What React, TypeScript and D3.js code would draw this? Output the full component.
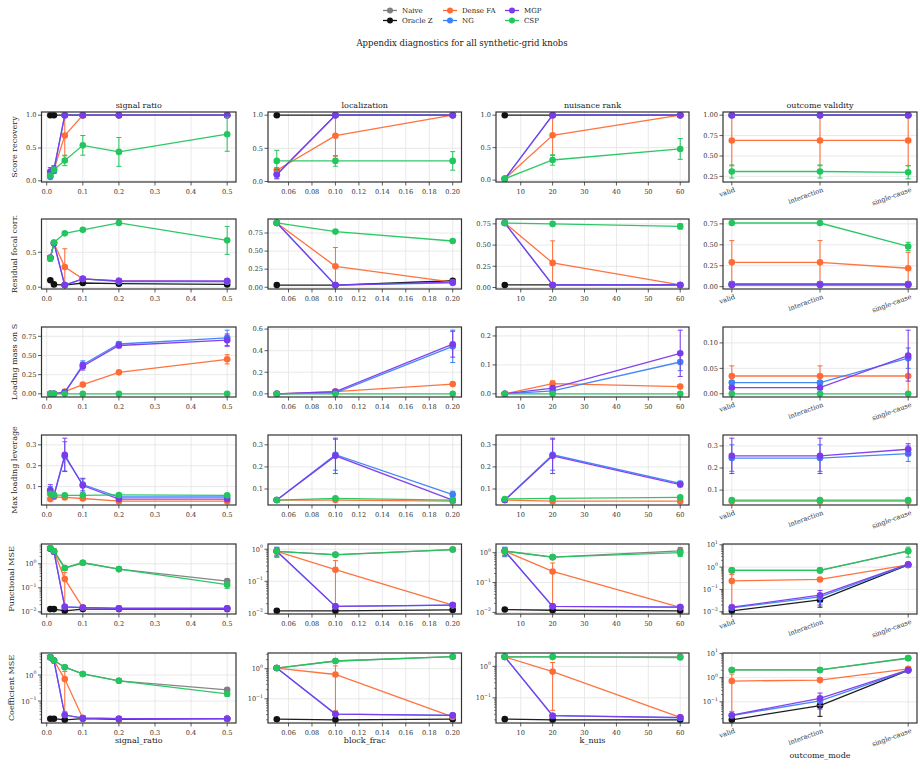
import * as d3 from "d3";
import React from "react";

// series in legend order (also draw order)
const seriesNames = ["Naive", "Oracle Z", "Dense FA", "NG", "MGP", "CSP"];
const seriesColors = ["#7f7f7f", "#111111", "#ff6b35", "#3b82f6", "#7c3aed", "#22c55e"];

const signalRatio = [0.01, 0.02, 0.05, 0.1, 0.2, 0.5];
const blockFrac = [0.05, 0.1, 0.2];
const kNuis = [5, 20, 60];
const outcomeMode = ["valid", "interaction", "single-cause"];

const colTitles = ["signal ratio", "localization", "nuisance rank", "outcome validity"];
const xLabels = ["signal_ratio", "block_frac", "k_nuis", "outcome_mode"];
const rowLabels = [
  "Score recovery",
  "Residual focal corr.",
  "Loading mass on S",
  "Max loading leverage",
  "Functional MSE",
  "Coefficient MSE",
];

const xTicksSignal = [0, 0.1, 0.2, 0.3, 0.4, 0.5];
const xTicksBlock = [0.06, 0.08, 0.1, 0.12, 0.14, 0.16, 0.18, 0.2];
const xTicksNuis = [10, 20, 30, 40, 50, 60];

const yTicksScore = [0, 0.5, 1];
const yTicksScoreOutcome = [0.25, 0.5, 0.75, 1];
const yTicksResidSignal = [0, 0.5];
const yTicksQuarter = [0, 0.25, 0.5, 0.75];
const yTicksLoadBlock = [0, 0.2, 0.4, 0.6];
const yTicksLoadNuis = [0, 0.1, 0.2];
const yTicksLoadOutcome = [0, 0.05, 0.1];
const yTicksLev = [0.1, 0.2, 0.3];
const yTicksLogA = [0.01, 0.1, 1];
const yTicksLogB = [0.01, 0.1, 1, 10];
const yTicksLogC = [0.1, 1];
const yTicksLogD = [0.1, 1, 10];

// [mean, err] or [mean, errLow, errHigh]
type Pt = number[];
type PanelData = Record<string, Pt[]>;

// ---- Score recovery
const scoreSignal: PanelData = {
  "Oracle Z": [[1, 0], [1, 0], [1, 0], [1, 0], [1, 0], [1, 0]],
  "Dense FA": [[0.12, 0.03], [0.17, 0.03], [0.69, 0.31], [1, 0], [1, 0], [1, 0]],
  NG: [[0.06, 0.03], [0.15, 0.04], [1, 0], [1, 0], [1, 0], [1, 0]],
  MGP: [[0.14, 0.06], [0.18, 0.05], [1, 0], [1, 0], [1, 0], [1, 0]],
  CSP: [[0.08, 0.03], [0.17, 0.03], [0.31, 0.08], [0.54, 0.15], [0.44, 0.22], [0.71, 0.26]],
};
const scoreBlock: PanelData = {
  "Oracle Z": [[1, 0], [1, 0], [1, 0]],
  "Dense FA": [[0.17, 0.04], [0.69, 0.31], [1, 0]],
  NG: [[0.1, 0.05], [1, 0], [1, 0]],
  MGP: [[0.11, 0.07], [1, 0], [1, 0]],
  CSP: [[0.31, 0.16], [0.31, 0.08], [0.31, 0.14]],
};
const scoreNuis: PanelData = {
  "Oracle Z": [[1, 0], [1, 0], [1, 0]],
  "Dense FA": [[0.02, 0], [0.69, 0.31], [1, 0]],
  NG: [[0.02, 0], [1, 0], [1, 0]],
  MGP: [[0.02, 0], [1, 0], [1, 0]],
  CSP: [[0.02, 0], [0.31, 0.08], [0.48, 0.16]],
};
const scoreOutcome: PanelData = {
  "Oracle Z": [[1, 0], [1, 0], [1, 0]],
  "Dense FA": [[0.69, 0.31], [0.69, 0.31], [0.69, 0.31]],
  NG: [[1, 0], [1, 0], [1, 0]],
  MGP: [[1, 0], [1, 0], [1, 0]],
  CSP: [[0.31, 0.08], [0.31, 0.08], [0.3, 0.08]],
};

// ---- Residual focal corr.
const residSignal: PanelData = {
  "Oracle Z": [[0.1, 0], [0.04, 0], [0.03, 0], [0.06, 0], [0.05, 0], [0.04, 0]],
  "Dense FA": [[0.42, 0.03], [0.63, 0.03], [0.29, 0.26], [0.12, 0.01], [0.09, 0.01], [0.08, 0.01]],
  NG: [[0.42, 0.03], [0.63, 0.03], [0.03, 0.01], [0.12, 0.01], [0.08, 0.01], [0.08, 0.01]],
  MGP: [[0.42, 0.03], [0.63, 0.03], [0.03, 0.01], [0.12, 0.01], [0.09, 0.01], [0.09, 0.01]],
  CSP: [[0.41, 0.04], [0.64, 0.03], [0.77, 0.02], [0.82, 0.02], [0.92, 0.01], [0.67, 0.2]],
};
const residBlock: PanelData = {
  "Oracle Z": [[0.03, 0], [0.03, 0], [0.09, 0]],
  "Dense FA": [[0.89, 0.01], [0.29, 0.26], [0.07, 0.01]],
  NG: [[0.89, 0.01], [0.03, 0.01], [0.06, 0.01]],
  MGP: [[0.89, 0.01], [0.03, 0.01], [0.07, 0.01]],
  CSP: [[0.89, 0.01], [0.77, 0.01], [0.64, 0.01]],
};
const residNuis: PanelData = {
  "Oracle Z": [[0.03, 0], [0.03, 0], [0.03, 0]],
  "Dense FA": [[0.76, 0.01], [0.29, 0.26], [0.03, 0.01]],
  NG: [[0.76, 0.01], [0.03, 0.01], [0.03, 0.01]],
  MGP: [[0.76, 0.01], [0.03, 0.01], [0.03, 0.01]],
  CSP: [[0.76, 0.01], [0.75, 0.01], [0.72, 0.03]],
};
const residOutcome: PanelData = {
  "Oracle Z": [[0.03, 0], [0.03, 0], [0.03, 0]],
  "Dense FA": [[0.29, 0.26], [0.29, 0.26], [0.22, 0.19]],
  NG: [[0.03, 0.01], [0.03, 0.01], [0.03, 0.01]],
  MGP: [[0.02, 0.01], [0.02, 0.01], [0.02, 0.01]],
  CSP: [[0.76, 0.01], [0.76, 0.01], [0.48, 0.05]],
};

// ---- Loading mass on S
const loadSignal: PanelData = {
  "Dense FA": [[0, 0], [0, 0], [0.03, 0.01], [0.12, 0.01], [0.28, 0.01], [0.45, 0.06]],
  NG: [[0, 0], [0, 0], [0.02, 0.01], [0.38, 0.05], [0.65, 0.03], [0.73, 0.1]],
  MGP: [[0, 0], [0, 0], [0.02, 0.01], [0.36, 0.05], [0.63, 0.03], [0.7, 0.08]],
  CSP: [[0, 0], [0, 0], [0, 0], [0, 0], [0, 0], [0, 0]],
};
const loadBlock: PanelData = {
  "Dense FA": [[0, 0], [0.02, 0.01], [0.09, 0.01]],
  NG: [[0, 0], [0.01, 0.01], [0.44, 0.15]],
  MGP: [[0, 0], [0.02, 0.01], [0.46, 0.12]],
  CSP: [[0, 0], [0, 0], [0, 0]],
};
const loadNuis: PanelData = {
  "Dense FA": [[0, 0], [0.035, 0.01], [0.025, 0.003]],
  NG: [[0, 0], [0.01, 0.005], [0.11, 0.03]],
  MGP: [[0, 0], [0.02, 0.005], [0.14, 0.08]],
  CSP: [[0, 0], [0, 0], [0, 0]],
};
const loadOutcome: PanelData = {
  "Dense FA": [[0.035, 0.02], [0.035, 0.02], [0.035, 0.035]],
  NG: [[0.022, 0.003], [0.022, 0.003], [0.07, 0.02]],
  MGP: [[0.012, 0.003], [0.012, 0.003], [0.075, 0.05]],
  CSP: [[0, 0], [0, 0], [0, 0]],
};

// ---- Max loading leverage
const levSignal: PanelData = {
  "Dense FA": [[0.04, 0.005], [0.05, 0.005], [0.048, 0.005], [0.043, 0.005], [0.03, 0.003], [0.03, 0.003]],
  NG: [[0.08, 0.02], [0.056, 0.005], [0.245, 0.07], [0.11, 0.03], [0.05, 0.003], [0.05, 0.003]],
  MGP: [[0.084, 0.025], [0.058, 0.005], [0.252, 0.08], [0.105, 0.032], [0.04, 0.003], [0.04, 0.003]],
  CSP: [[0.066, 0.005], [0.06, 0.004], [0.058, 0.004], [0.058, 0.004], [0.06, 0.004], [0.058, 0.004]],
};
const levBlock: PanelData = {
  "Dense FA": [[0.05, 0.003], [0.05, 0.003], [0.045, 0.003]],
  NG: [[0.05, 0.003], [0.255, 0.07], [0.075, 0.015]],
  MGP: [[0.05, 0.003], [0.25, 0.08], [0.05, 0.003]],
  CSP: [[0.05, 0.003], [0.058, 0.003], [0.05, 0.003]],
};
const levNuis: PanelData = {
  "Dense FA": [[0.05, 0.003], [0.045, 0.003], [0.045, 0.003]],
  NG: [[0.05, 0.003], [0.255, 0.07], [0.125, 0.01]],
  MGP: [[0.05, 0.003], [0.25, 0.08], [0.12, 0.01]],
  CSP: [[0.055, 0.003], [0.058, 0.003], [0.062, 0.004]],
};
const levOutcome: PanelData = {
  "Dense FA": [[0.05, 0.003], [0.05, 0.003], [0.05, 0.003]],
  NG: [[0.245, 0.06], [0.245, 0.06], [0.265, 0.035]],
  MGP: [[0.255, 0.08], [0.255, 0.08], [0.285, 0.025]],
  CSP: [[0.055, 0.003], [0.055, 0.003], [0.055, 0.003]],
};

// ---- Functional MSE (log)
const funcSignal: PanelData = {
  Naive: [[4.4, 0], [3.3, 0], [0.67, 0], [1.1, 0], [0.6, 0], [0.19, 0]],
  "Oracle Z": [[0.013, 0], [0.013, 0], [0.011, 0], [0.013, 0], [0.013, 0], [0.013, 0]],
  "Dense FA": [[4.4, 0.5], [3.3, 0.3], [0.23, 0.21], [0.015, 0.001], [0.014, 0.001], [0.014, 0.001]],
  NG: [[4.2, 0.4], [3.2, 0.3], [0.016, 0.001], [0.015, 0.001], [0.014, 0.001], [0.014, 0.001]],
  MGP: [[4.2, 0.4], [3.2, 0.3], [0.016, 0.001], [0.015, 0.001], [0.014, 0.001], [0.014, 0.001]],
  CSP: [[4.4, 0.5], [3.4, 0.3], [0.67, 0.05], [1.1, 0.05], [0.6, 0.03], [0.135, 0.04]],
};
const funcBlock: PanelData = {
  Naive: [[0.86, 0], [0.68, 0], [0.98, 0]],
  "Oracle Z": [[0.012, 0], [0.012, 0], [0.0128, 0]],
  "Dense FA": [[0.86, 0.2], [0.23, 0.213], [0.018, 0.001]],
  NG: [[0.86, 0.3], [0.0165, 0.001], [0.018, 0.001]],
  MGP: [[0.86, 0.25], [0.0165, 0.001], [0.018, 0.001]],
  CSP: [[0.86, 0.25], [0.67, 0.03], [0.98, 0.03]],
};
const funcNuis: PanelData = {
  Naive: [[1.13, 0.3], [0.71, 0], [1.15, 0.35]],
  "Oracle Z": [[0.0125, 0], [0.0118, 0], [0.0113, 0]],
  "Dense FA": [[1.13, 0.3], [0.235, 0.218], [0.0148, 0.001]],
  NG: [[1.13, 0.4], [0.016, 0.001], [0.015, 0.001]],
  MGP: [[1.13, 0.35], [0.016, 0.001], [0.015, 0.001]],
  CSP: [[1.13, 0.35], [0.71, 0.03], [1.0, 0.25]],
};
const funcOutcome: PanelData = {
  Naive: [[0.71, 0], [0.71, 0], [5.2, 0]],
  "Oracle Z": [[0.011, 0], [0.034, 0.018], [1.25, 0]],
  "Dense FA": [[0.24, 0.22], [0.28, 0], [1.25, 0]],
  NG: [[0.015, 0.001], [0.046, 0.02], [1.3, 0.1]],
  MGP: [[0.016, 0.001], [0.055, 0.035], [1.35, 0.1]],
  CSP: [[0.71, 0.03], [0.71, 0.03], [5.3, 2.5]],
};

// ---- Coefficient MSE (log)
const coefSignal: PanelData = {
  Naive: [[4.8, 0], [3.6, 0], [2.0, 0], [1.1, 0], [0.6, 0], [0.27, 0]],
  "Oracle Z": [[0.021, 0], [0.021, 0], [0.019, 0], [0.021, 0], [0.02, 0], [0.021, 0]],
  "Dense FA": [[4.8, 0.5], [3.6, 0.3], [0.7, 0.66], [0.022, 0.001], [0.021, 0.001], [0.021, 0.001]],
  NG: [[4.8, 0.4], [3.6, 0.3], [0.029, 0.002], [0.022, 0.001], [0.021, 0.001], [0.021, 0.001]],
  MGP: [[4.8, 0.4], [3.6, 0.3], [0.029, 0.002], [0.022, 0.001], [0.021, 0.001], [0.021, 0.001]],
  CSP: [[4.8, 0.5], [3.6, 0.3], [2.0, 0.1], [1.1, 0.05], [0.6, 0.03], [0.19, 0.04]],
};
const coefBlock: PanelData = {
  Naive: [[1.05, 0], [1.8, 0], [2.5, 0]],
  "Oracle Z": [[0.021, 0], [0.02, 0], [0.021, 0]],
  "Dense FA": [[1.05, 0.1], [0.64, 0.6], [0.025, 0.001]],
  NG: [[1.05, 0.1], [0.031, 0.002], [0.028, 0.002]],
  MGP: [[1.05, 0.1], [0.031, 0.002], [0.028, 0.002]],
  CSP: [[1.05, 0.1], [1.8, 0.05], [2.5, 0.1]],
};
const coefNuis: PanelData = {
  Naive: [[2.0, 0], [2.0, 0], [2.0, 0]],
  "Oracle Z": [[0.021, 0], [0.02, 0], [0.02, 0]],
  "Dense FA": [[2.0, 0.1], [0.68, 0.64], [0.024, 0.001]],
  NG: [[2.0, 0.1], [0.027, 0.002], [0.023, 0.001]],
  MGP: [[2.0, 0.1], [0.027, 0.002], [0.024, 0.001]],
  CSP: [[2.0, 0.1], [2.0, 0.1], [1.9, 0.15]],
};
const coefOutcome: PanelData = {
  Naive: [[2.08, 0], [2.08, 0], [6.3, 0]],
  "Oracle Z": [[0.018, 0], [0.07, 0.045], [2.0, 0]],
  "Dense FA": [[0.72, 0.68], [0.79, 0], [2.3, 0.1]],
  NG: [[0.027, 0.002], [0.11, 0.04], [2.0, 0.1]],
  MGP: [[0.028, 0.002], [0.14, 0.09], [2.08, 0.1]],
  CSP: [[2.08, 0.05], [2.08, 0.05], [6.5, 1.2]],
};

const panelGrid = [
  [scoreSignal, scoreBlock, scoreNuis, scoreOutcome],
  [residSignal, residBlock, residNuis, residOutcome],
  [loadSignal, loadBlock, loadNuis, loadOutcome],
  [levSignal, levBlock, levNuis, levOutcome],
  [funcSignal, funcBlock, funcNuis, funcOutcome],
  [coefSignal, coefBlock, coefNuis, coefOutcome],
];
const yTickGrid = [
  [yTicksScore, yTicksScore, yTicksScore, yTicksScoreOutcome],
  [yTicksResidSignal, yTicksQuarter, yTicksQuarter, yTicksQuarter],
  [yTicksQuarter, yTicksLoadBlock, yTicksLoadNuis, yTicksLoadOutcome],
  [yTicksLev, yTicksLev, yTicksLev, yTicksLev],
  [yTicksLogA, yTicksLogA, yTicksLogA, yTicksLogB],
  [yTicksLogC, yTicksLogC, yTicksLogC, yTicksLogD],
];
const xGrid = [signalRatio, blockFrac, kNuis, null];
const xTickGrid = [xTicksSignal, xTicksBlock, xTicksNuis, null];

// layout
const W = 924;
const H = 766;
const colEdges = [[41.5, 236], [268, 461.5], [496, 689], [723, 917]];
const rowTops = [112, 219, 327, 435, 544, 653];
const panelH = 70;
const yLabelX = [17, 17, 17, 17, 14, 14];
const font = "DejaVu Serif";
const tickColor = "#333";
const tickSize = 6.6;

const decimals = (ticks: number[]) =>
  d3.max(ticks, t => {
    const s = String(t);
    return s.includes(".") ? s.split(".")[1].length : 0;
  }) || 0;

const supMap: Record<string, string> = { "-1": "−1", "-2": "−2", "0": "0", "1": "1" };

function Panel({ r, c }: { r: number; c: number }) {
  const data = panelGrid[r][c];
  const log = r >= 4;
  const [left, right] = colEdges[c];
  const top = rowTops[r];
  const bottom = top + panelH;
  const cats = xGrid[c] === null;
  const xv: number[] = cats ? d3.range(outcomeMode.length) : (xGrid[c] as number[]);
  const xmin = d3.min(xv)!;
  const xmax = d3.max(xv)!;
  const xpad = 0.05 * (xmax - xmin);
  const x = d3.scaleLinear().domain([xmin - xpad, xmax + xpad]).range([left, right]);

  const names = seriesNames.filter(n => data[n]);
  const vals: number[] = [];
  names.forEach(n =>
    data[n].forEach(p => {
      const el = p[1];
      const eh = p.length > 2 ? p[2] : p[1];
      [p[0], p[0] - el, p[0] + eh].forEach(v => {
        if (!log || v > 0) vals.push(v);
      });
    })
  );
  let y: any;
  if (log) {
    const lmin = Math.log10(d3.min(vals)!);
    const lmax = Math.log10(d3.max(vals)!);
    const pad = 0.05 * (lmax - lmin);
    y = d3.scaleLog().domain([10 ** (lmin - pad), 10 ** (lmax + pad)]).range([bottom, top]);
  } else {
    const vmin = d3.min(vals)!;
    const vmax = d3.max(vals)!;
    const pad = 0.05 * (vmax - vmin);
    y = d3.scaleLinear().domain([vmin - pad, vmax + pad]).range([bottom, top]);
  }
  const [d0, d1] = y.domain();
  const yTicks = yTickGrid[r][c].filter(t => t >= d0 && t <= d1);
  const xTicks: number[] = cats
    ? xv
    : (xTickGrid[c] as number[]).filter(t => t >= x.domain()[0] && t <= x.domain()[1]);
  const yFmt = d3.format(`.${decimals(yTickGrid[r][c])}f`);
  const xFmt = cats ? null : d3.format(`.${decimals(xTickGrid[c] as number[])}f`);

  const minor: number[] = [];
  if (log) {
    for (let e = Math.floor(Math.log10(d0)); e <= Math.ceil(Math.log10(d1)); e++) {
      for (let m = 2; m <= 9; m++) {
        const v = m * 10 ** e;
        if (v >= d0 && v <= d1) minor.push(v);
      }
    }
  }

  const line = d3
    .line<Pt>()
    .x((_, i) => x(xv[i]))
    .y(p => y(p[0]));

  return (
    <g>
      {/* grid */}
      {xTicks.map(t => (
        <line key={"gx" + t} x1={x(t)} x2={x(t)} y1={top} y2={bottom} stroke="#e3e3e3" strokeWidth={0.8} />
      ))}
      {yTicks.map(t => (
        <line key={"gy" + t} x1={left} x2={right} y1={y(t)} y2={y(t)} stroke="#e3e3e3" strokeWidth={0.8} />
      ))}
      {/* series */}
      {names.map(n => {
        const color = seriesColors[seriesNames.indexOf(n)];
        const pts = data[n];
        return (
          <g key={n}>
            <path d={line(pts)!} fill="none" stroke={color} strokeWidth={1.3} strokeOpacity={0.95} />
            {pts.map((p, i) => {
              const el = p[1];
              const eh = p.length > 2 ? p[2] : p[1];
              if (el === 0 && eh === 0) return null;
              const px = x(xv[i]);
              const lo = p[0] - el;
              const yLo = log && lo <= 0 ? bottom : y(lo);
              const yHi = y(p[0] + eh);
              return (
                <g key={i} stroke={color} strokeWidth={1}>
                  <line x1={px} x2={px} y1={yLo} y2={yHi} />
                  <line x1={px - 2.5} x2={px + 2.5} y1={yHi} y2={yHi} />
                  {!(log && lo <= 0) && <line x1={px - 2.5} x2={px + 2.5} y1={yLo} y2={yLo} />}
                </g>
              );
            })}
            {pts.map((p, i) => (
              <circle key={"m" + i} cx={x(xv[i])} cy={y(p[0])} r={3.3} fill={color} />
            ))}
          </g>
        );
      })}
      {/* frame */}
      <rect x={left} y={top} width={right - left} height={panelH} fill="none" stroke="#333" strokeWidth={1.2} />
      {/* y ticks */}
      {yTicks.map(t => (
        <g key={"yt" + t}>
          <line x1={left - 3.5} x2={left} y1={y(t)} y2={y(t)} stroke={tickColor} strokeWidth={0.8} />
          {log ? (
            <text x={left - 5} y={y(t) + 2.5} textAnchor="end" fontSize={tickSize} fill={tickColor} fontFamily={font}>
              10
              <tspan dy={-3.5} fontSize={4.7}>
                {supMap[String(Math.round(Math.log10(t)))]}
              </tspan>
            </text>
          ) : (
            <text x={left - 5} y={y(t) + 2.3} textAnchor="end" fontSize={tickSize} fill={tickColor} fontFamily={font}>
              {yFmt(t)}
            </text>
          )}
        </g>
      ))}
      {minor.map(t => (
        <line key={"mn" + t} x1={left - 2} x2={left} y1={y(t)} y2={y(t)} stroke={tickColor} strokeWidth={0.6} />
      ))}
      {/* x ticks */}
      {xTicks.map(t => (
        <g key={"xt" + t}>
          <line x1={x(t)} x2={x(t)} y1={bottom} y2={bottom + 3.5} stroke={tickColor} strokeWidth={0.8} />
          {cats ? (
            <text
              transform={`translate(${x(t) + 2},${bottom + 5}) rotate(-20)`}
              dy="0.72em"
              textAnchor="end"
              fontSize={tickSize}
              fill={tickColor}
              fontFamily={font}
            >
              {outcomeMode[t]}
            </text>
          ) : (
            <text x={x(t)} y={bottom + 12} textAnchor="middle" fontSize={tickSize} fill={tickColor} fontFamily={font}>
              {xFmt!(t)}
            </text>
          )}
        </g>
      ))}
      {r === 0 && (
        <text x={(left + right) / 2} y={top - 4} textAnchor="middle" fontSize={8} fill="#222" fontFamily={font}>
          {colTitles[c]}
        </text>
      )}
      {c === 0 && (
        <text
          transform={`translate(${yLabelX[r]},${(top + bottom) / 2}) rotate(-90)`}
          textAnchor="middle"
          fontSize={8}
          fill="#222"
          fontFamily={font}
        >
          {rowLabels[r]}
        </text>
      )}
      {r === 5 && (
        <text
          x={(left + right) / 2}
          y={cats ? 758 : 743}
          textAnchor="middle"
          fontSize={8}
          fill="#222"
          fontFamily={font}
        >
          {xLabels[c]}
        </text>
      )}
    </g>
  );
}

function Legend() {
  const cols = [383, 443, 505];
  const rows = [10.5, 20.5];
  return (
    <g>
      {seriesNames.map((n, i) => {
        const cx = cols[Math.floor(i / 2)];
        const cy = rows[i % 2];
        return (
          <g key={n}>
            <line x1={cx} x2={cx + 14} y1={cy} y2={cy} stroke={seriesColors[i]} strokeWidth={1.3} />
            <circle cx={cx + 7} cy={cy} r={3} fill={seriesColors[i]} />
            <text x={cx + 19} y={cy + 2.4} fontSize={7} fill="#222" fontFamily={font}>
              {n}
            </text>
          </g>
        );
      })}
    </g>
  );
}

export default function App() {
  return (
    <svg
      width={W}
      height={H}
      style={{ position: "absolute", left: 0, top: 0, background: "#fff" }}
      fontFamily={font}
    >
      <rect width={W} height={H} fill="#fff" />
      <Legend />
      <text x={462} y={46} textAnchor="middle" fontSize={8.5} fill="#222" fontFamily={font}>
        Appendix diagnostics for all synthetic-grid knobs
      </text>
      {rowTops.map((_, r) => colEdges.map((_, c) => <Panel key={`${r}-${c}`} r={r} c={c} />))}
    </svg>
  );
}
